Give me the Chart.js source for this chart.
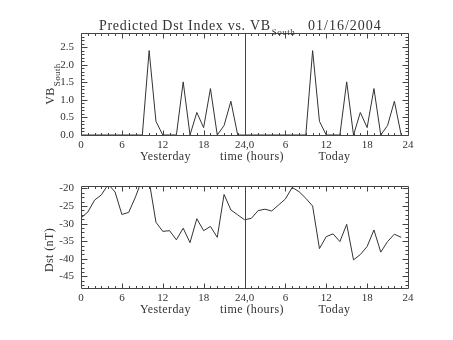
<!DOCTYPE html>
<html>
<head>
<meta charset="utf-8">
<script src="https://cdn.jsdelivr.net/npm/chart.js@4.4.1/dist/chart.umd.min.js"></script>
<style>
html, body { margin: 0; padding: 0; background: #fff; }
#wrap { position: relative; width: 453px; height: 340px; }
.box { position: absolute; left: 0; width: 453px; height: 170px; }
</style>
</head>
<body>
<div id="wrap">
  <div class="box" style="top:0"><canvas id="vbChart" width="453" height="170"></canvas></div>
  <div class="box" style="top:170px"><canvas id="dstChart" width="453" height="170"></canvas></div>
</div>
<script>
// hours since start of yesterday (0-23 yesterday, 24-47 today)
var hours = [0, 1, 2, 3, 4, 5, 6, 7, 8, 9, 10, 11, 12, 13, 14, 15, 16, 17, 18, 19, 20, 21, 22, 23,
             24, 25, 26, 27, 28, 29, 30, 31, 32, 33, 34, 35, 36, 37, 38, 39, 40, 41, 42, 43, 44, 45, 46, 47];

var vbSouth = [0, 0, 0, 0, 0, 0, 0, 0, 0, 0, 2.4, 0.39, 0, 0, 0, 1.51, 0, 0.64, 0.21, 1.32, 0, 0.27, 0.96, 0,
               0, 0, 0, 0, 0, 0, 0, 0, 0, 0, 2.4, 0.39, 0, 0, 0, 1.51, 0, 0.64, 0.21, 1.32, 0, 0.27, 0.96, 0];

var dst = [-28.4, -26.7, -23.3, -21.8, -18.8, -21.0, -27.4, -26.8, -22.4, -17.2, -17.8, -29.6,
           -32.2, -32.0, -34.6, -31.3, -35.4, -28.6, -32.0, -30.8, -33.9, -21.7, -26.1, -27.5,
           -28.9, -28.5, -26.3, -25.9, -26.4, -24.7, -23.0, -19.7, -20.9, -22.8, -25.0, -37.1,
           -33.7, -32.9, -35.1, -30.2, -40.3, -38.8, -36.5, -31.8, -38.1, -35.1, -33.0, -33.9];

var hourTicks = [0, 6, 12, 18, 24, 30, 36, 42, 48];
var hourLabels = ['0', '6', '12', '18', '24,0', '6', '12', '18', '24'];
var vbTicks = [0, 0.5, 1, 1.5, 2, 2.5];
var dstTicks = [-45, -40, -35, -30, -25, -20];

var FONT = 'Liberation Serif';
var INK = '#333';

function pairs(ys) {
    var out = [];
    for (var i = 0; i < hours.length; i++) {
        out.push({ x: hours[i], y: ys[i] });
    }
    return out;
}

// box, inward ticks, midnight line and the IDL-style labels
var idlFrame = {
    id: 'idlFrame',
    afterDatasetsDraw: function (chart, args, o) {
        var ctx = chart.ctx, a = chart.chartArea;
        var xs = chart.scales.x, ys = chart.scales.y;
        var L = Math.round(a.left) + 0.5, R = Math.round(a.right) + 0.5;
        var T = Math.round(a.top) + 0.5, B = Math.round(a.bottom) + 0.5;
        ctx.save();
        ctx.strokeStyle = '#444';
        ctx.lineWidth = 1;
        ctx.beginPath();
        ctx.rect(L, T, R - L, B - T);
        // midnight divider
        var mx = Math.round(xs.getPixelForValue(24)) + 0.5;
        ctx.moveTo(mx, T);
        ctx.lineTo(mx, B);
        // x ticks, every hour
        for (var h = 1; h < 48; h++) {
            var px = Math.round(xs.getPixelForValue(h)) + 0.5;
            var len = (h % 6 === 0) ? 5 : 2.5;
            ctx.moveTo(px, B); ctx.lineTo(px, B - len);
            ctx.moveTo(px, T); ctx.lineTo(px, T + len);
        }
        // y ticks
        for (var v = o.yFrom; v <= ys.max + 1e-9; v += o.yMinor) {
            if (v < ys.min) continue;
            var py = Math.round(ys.getPixelForValue(v)) + 0.5;
            var major = Math.abs(v / o.yMajor - Math.round(v / o.yMajor)) < 1e-6;
            var l2 = major ? 6 : 3;
            ctx.moveTo(L, py); ctx.lineTo(L + l2, py);
            ctx.moveTo(R, py); ctx.lineTo(R - l2, py);
        }
        ctx.stroke();

        // text under the x axis
        ctx.fillStyle = INK;
        ctx.font = '12px "' + FONT + '"';
        ctx.letterSpacing = '0.4px';
        ctx.textAlign = 'center';
        ctx.textBaseline = 'middle';
        var ly = a.bottom + 22;
        ctx.fillText('Yesterday', xs.getPixelForValue(12.4), ly);
        ctx.fillText('time (hours)', xs.getPixelForValue(25.1), ly);
        ctx.fillText('Today', xs.getPixelForValue(37.2), ly);

        // y axis title
        ctx.save();
        ctx.translate(o.yTitleX, o.yTitleY);
        ctx.rotate(-Math.PI / 2);
        ctx.textBaseline = 'alphabetic';
        ctx.textAlign = 'left';
        ctx.font = '12px "' + FONT + '"';
        var w1 = ctx.measureText(o.yTitle).width;
        var w2 = 0;
        if (o.ySub) {
            ctx.font = '9px "' + FONT + '"';
            w2 = ctx.measureText(o.ySub).width + 1;
        }
        var sx = -(w1 + w2) / 2;
        ctx.font = '12px "' + FONT + '"';
        ctx.fillText(o.yTitle, sx, 4);
        if (o.ySub) {
            ctx.font = '9px "' + FONT + '"';
            ctx.fillText(o.ySub, sx + w1 + 1, 10);
        }
        ctx.restore();

        // main title (top panel only)
        if (o.title) {
            ctx.textAlign = 'left';
            ctx.textBaseline = 'alphabetic';
            ctx.font = '14px "' + FONT + '"';
            ctx.letterSpacing = '0.7px';
            ctx.fillText(o.title, 99, 29.5);
            var tw = ctx.measureText(o.title).width;
            ctx.font = '9px "' + FONT + '"';
            ctx.letterSpacing = '0.5px';
            ctx.fillText(o.titleSub, 99 + tw + 1, 35);
            ctx.font = '14px "' + FONT + '"';
            ctx.letterSpacing = '1px';
            ctx.fillText(o.date, 308, 29.5);
        }
        ctx.letterSpacing = '0px';
        ctx.restore();
    }
};

function makeChart(id, values, yMin, yMax, yTicks, yFmt, padTop, xHeight, frame) {
    return new Chart(document.getElementById(id), {
        type: 'line',
        data: {
            datasets: [{
                data: pairs(values),
                borderColor: '#333',
                borderWidth: 1,
                pointRadius: 0,
                tension: 0,
                fill: false,
                clip: 0
            }]
        },
        options: {
            responsive: false,
            animation: false,
            events: [],
            layout: { padding: { top: padTop, right: 45, left: 0, bottom: 0 } },
            plugins: {
                legend: { display: false },
                tooltip: { enabled: false },
                idlFrame: frame
            },
            scales: {
                x: {
                    type: 'linear', min: 0, max: 48,
                    grid: { display: false, drawTicks: false },
                    border: { display: false },
                    afterBuildTicks: function (s) {
                        s.ticks = hourTicks.map(function (v) { return { value: v }; });
                    },
                    afterFit: function (s) { s.height = xHeight; },
                    ticks: {
                        autoSkip: false, maxRotation: 0, padding: 4, color: INK,
                        font: { family: FONT, size: 11 },
                        callback: function (v) { return hourLabels[hourTicks.indexOf(v)]; }
                    }
                },
                y: {
                    min: yMin, max: yMax,
                    grid: { display: false, drawTicks: false },
                    border: { display: false },
                    afterBuildTicks: function (s) {
                        s.ticks = yTicks.map(function (v) { return { value: v }; });
                    },
                    afterFit: function (s) { s.width = 81; },
                    ticks: {
                        padding: 7, color: INK,
                        font: { family: FONT, size: 11 },
                        callback: yFmt
                    }
                }
            }
        },
        plugins: [idlFrame]
    });
}

makeChart('vbChart', vbSouth, 0, 2.9, vbTicks,
    function (v) { return v.toFixed(1); }, 33, 35,
    { yFrom: 0, yMinor: 0.1, yMajor: 0.5, yTitle: 'VB', ySub: 'South', yTitleX: 50, yTitleY: 84,
      title: 'Predicted Dst Index vs. VB', titleSub: 'South', date: '01/16/2004' });

makeChart('dstChart', dst, -48.3, -19.3, dstTicks,
    function (v) { return String(v); }, 16, 52,
    { yFrom: -48.75, yMinor: 1.25, yMajor: 5, yTitle: 'Dst (nT)', ySub: '', yTitleX: 49, yTitleY: 80 });
</script>
</body>
</html>
